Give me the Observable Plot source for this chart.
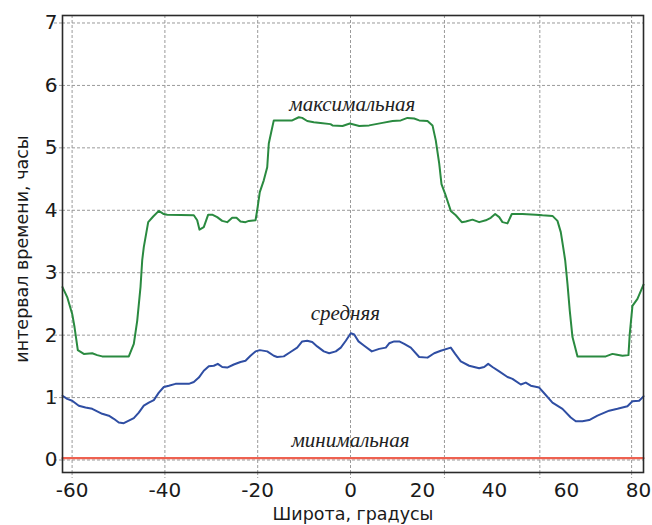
<!DOCTYPE html>
<html>
<head>
<meta charset="utf-8">
<script src="https://cdn.jsdelivr.net/npm/d3@7"></script>
<script src="https://cdn.jsdelivr.net/npm/@observablehq/plot@0.6"></script>
<style>
  html, body { margin: 0; padding: 0; background: #fff; }
  #chart { width: 652px; height: 525px; }
</style>
</head>
<body>
<div id="chart"></div>
<script>
// ---- data (latitude, hours) ----
const latMax = [-62.07,-61.06,-59.98,-59.48,-58.77,-57.48,-55.67,-54.59,-53.51,-47.78,-46.70,-45.97,-45.26,-44.89,-44.55,-43.60,-42.52,-41.31,-40.24,-39.50,-33.77,-33.04,-32.54,-31.62,-30.67,-29.81,-28.73,-27.65,-26.57,-25.50,-24.57,-23.71,-22.63,-21.92,-20.47,-20.11,-19.55,-18.69,-17.95,-17.61,-17.09,-16.53,-12.56,-11.14,-10.41,-9.33,-7.91,-6.47,-4.31,-3.88,-1.72,-0.15,2.42,5.19,8.89,11.67,13.97,15.83,17.69,19.08,21.39,22.78,23.69,24.64,25.28,26.31,27.86,29.25,30.92,32.03,33.89,35.75,37.58,38.97,40.19,41.31,42.22,43.61,44.81,47.78,51.47,53.33,56.11,57.5,58.42,59.08,59.64,60.28,60.92,61.67,63.06,70.92,72.78,73.69,75.56,77.22,77.58,78.33,79.72,81.11,81.4];
const hoursMax = [2.77,2.61,2.34,2.13,1.76,1.70,1.71,1.68,1.66,1.66,1.86,2.23,2.77,3.20,3.41,3.81,3.90,3.99,3.94,3.93,3.92,3.84,3.69,3.73,3.93,3.93,3.89,3.83,3.81,3.88,3.88,3.82,3.81,3.83,3.84,4.00,4.29,4.48,4.69,5.07,5.25,5.44,5.44,5.49,5.48,5.43,5.41,5.40,5.38,5.36,5.35,5.39,5.35,5.36,5.40,5.43,5.44,5.48,5.47,5.44,5.43,5.36,5.12,4.75,4.42,4.26,3.99,3.92,3.81,3.82,3.85,3.81,3.84,3.88,3.94,3.89,3.81,3.79,3.94,3.94,3.93,3.92,3.91,3.83,3.65,3.41,3.20,2.82,2.39,1.97,1.66,1.66,1.70,1.69,1.67,1.68,2.02,2.47,2.58,2.77,2.81];

const latAvg = [-62.07,-61.06,-59.98,-58.56,-57.11,-55.67,-54.59,-53.51,-52.09,-51.01,-49.94,-48.86,-47.78,-46.70,-45.63,-44.55,-43.47,-42.39,-41.31,-40.24,-39.16,-37.72,-34.85,-33.77,-32.69,-31.62,-30.54,-29.46,-28.60,-27.65,-26.57,-25.15,-23.71,-22.63,-21.55,-20.47,-19.55,-17.95,-16.53,-15.80,-14.38,-12.93,-11.49,-10.41,-9.33,-8.25,-7.18,-5.75,-4.59,-3.17,-2.09,-1.01,0.08,1.03,2.22,3.81,5.92,7.97,9.81,10.75,12.14,13.53,14.92,16.75,19.08,21.39,23.25,25.08,27.86,29.08,30.64,32.97,35.75,37.14,38.25,39.44,41.31,43.61,45.0,47.31,48.69,50.08,52.42,53.81,56.11,58.89,61.19,62.58,64.44,66.31,68.61,71.86,74.17,76.94,78.33,80.19,81.4];
const hoursAvg = [1.03,0.98,0.95,0.87,0.84,0.82,0.78,0.74,0.71,0.66,0.60,0.59,0.63,0.67,0.76,0.87,0.92,0.96,1.08,1.17,1.19,1.22,1.22,1.25,1.32,1.43,1.50,1.51,1.54,1.49,1.48,1.53,1.57,1.59,1.67,1.74,1.76,1.74,1.67,1.65,1.66,1.73,1.80,1.90,1.91,1.89,1.82,1.74,1.71,1.74,1.80,1.91,2.03,2.01,1.90,1.83,1.74,1.78,1.80,1.87,1.90,1.90,1.86,1.80,1.65,1.64,1.71,1.75,1.80,1.70,1.58,1.51,1.47,1.49,1.54,1.49,1.42,1.33,1.30,1.21,1.24,1.19,1.16,1.07,0.92,0.82,0.68,0.62,0.62,0.64,0.71,0.79,0.82,0.86,0.94,0.95,1.02];

const latMin = [-62.07, 81.4];
const hoursMin = [0.03, 0.03];

const xTicks = [-60, -40, -20, 0, 20, 40, 60, 80];
const xTickLabels = ["-60", "-40", "-20", "0", "20", "40", "60", "80"];
const xGrid = [-60, -40, -20, 0, 26.1, 52.6, 78.1];
const yTicks = [0, 1, 2, 3, 4, 5, 6, 7];

const labelNames = ["максимальная", "средняя", "минимальная"];
const labelLat = [0.5, -1.1, 0];
const labelHours = [5.70, 2.35, 0.31];

const xTitle = "Широта, градусы";
const yTitle = "интервал времени, часы";

// ---- tables ----
const toRows = (xs, ys) => xs.map((x, i) => ({lat: x, h: ys[i]}));
const rowsMax = toRows(latMax, hoursMax);
const rowsAvg = toRows(latAvg, hoursAvg);
const rowsMin = toRows(latMin, hoursMin);
const labels = labelNames.map((t, i) => ({t, lat: labelLat[i], h: labelHours[i]}));

const gridStyle = {stroke: "#9a9a9a", strokeOpacity: 1, strokeWidth: 1, strokeDasharray: "3,2"};

const chart = Plot.plot({
  width: 652,
  height: 525,
  marginLeft: 62,
  marginRight: 9,
  marginTop: 15,
  marginBottom: 53,
  style: {fontFamily: "DejaVu Sans, sans-serif", fontSize: "20px", color: "#1a1a1a", background: "#fff", overflow: "visible"},
  x: {type: "linear", domain: [-62.07, 0, 81.4], range: [62, 350, 643]},
  y: {domain: [-0.2, 7.12]},
  marks: [
    Plot.gridX(xGrid, gridStyle),
    Plot.gridY(yTicks, gridStyle),
    Plot.axisX(xGrid, {tickSize: 6, tickFormat: () => "", label: null, ...gridStyle}),
    Plot.axisY(yTicks, {tickSize: 9, tickFormat: () => "", label: null, ...gridStyle}),
    Plot.line(rowsMin, {x: "lat", y: "h", stroke: "#ee6150", strokeWidth: 2.2}),
    Plot.line(rowsMax, {x: "lat", y: "h", stroke: "#2a8a40", strokeWidth: 2}),
    Plot.line(rowsAvg, {x: "lat", y: "h", stroke: "#2f4ea3", strokeWidth: 2}),
    Plot.text(labels, {x: "lat", y: "h", text: "t", fontFamily: "Liberation Serif, Times New Roman, serif", fontStyle: "italic", fontSize: 21, fill: "#222", lineAnchor: "middle"}),
    Plot.frame({stroke: "#2a2a2a", strokeWidth: 1.6}),
    Plot.axisX(xTicks, {tickSize: 0, tickPadding: 10, tickFormat: d => xTickLabels[xTicks.indexOf(d)], label: null, fontSize: 20}),
    Plot.axisY(yTicks, {tickSize: 0, tickPadding: 5, tickFormat: d => String(d), label: null, fontSize: 20}),
    Plot.text([xTitle], {text: d => d, frameAnchor: "bottom", dy: 42, lineAnchor: "middle", textAnchor: "middle", fontSize: 17.5}),
    Plot.text([yTitle], {text: d => d, frameAnchor: "middle", dx: -330.5, dy: 5, rotate: -90, lineAnchor: "middle", textAnchor: "middle", fontSize: 17.5})
  ]
});
document.getElementById("chart").appendChild(chart);
</script>
</body>
</html>
